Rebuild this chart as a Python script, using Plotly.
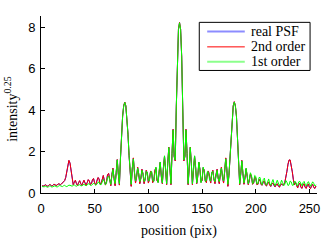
import plotly.graph_objects as go

position = list(range(1, 257))

real_psf = [
    0.35,0.33,0.36,0.40,0.36,0.33,0.36,0.41,0.38,0.34,
    0.37,0.42,0.40,0.36,0.39,0.44,0.43,0.40,0.44,0.50,
    0.56,0.60,0.74,1.09,1.44,1.57,1.44,1.09,0.64,0.40,
    0.51,0.61,0.46,0.37,0.50,0.59,0.46,0.37,0.50,0.61,
    0.49,0.38,0.50,0.64,0.58,0.41,0.46,0.65,0.69,0.47,
    0.41,0.55,0.74,0.70,0.43,0.46,0.70,0.84,0.60,0.39,
    0.56,0.89,0.94,0.56,0.36,0.89,1.19,0.71,0.36,0.99,
    1.61,0.91,0.39,1.67,2.79,3.71,4.21,4.39,4.21,3.70,
    2.84,1.82,0.86,0.33,1.17,1.69,1.01,0.49,0.78,1.24,
    0.91,0.46,0.72,1.14,0.91,0.46,0.68,1.09,0.95,0.49,
    0.66,1.04,1.00,0.51,0.58,1.09,1.22,0.61,0.52,1.14,
    1.48,0.81,0.46,1.24,1.78,1.11,0.41,1.41,2.21,1.21,
    0.41,1.91,3.07,1.76,1.56,4.19,6.61,7.91,8.24,7.91,
    6.61,4.19,1.56,1.76,3.07,1.91,0.41,1.21,2.21,1.41,
    0.41,1.11,1.78,1.24,0.46,0.81,1.48,1.14,0.52,0.61,
    1.22,1.09,0.58,0.51,1.00,1.04,0.66,0.49,0.95,1.09,
    0.68,0.46,0.91,1.14,0.72,0.46,0.91,1.24,0.78,0.49,
    1.01,1.69,1.17,0.33,0.86,1.82,2.84,3.70,4.21,4.41,
    4.21,3.71,2.79,1.67,0.41,0.92,1.57,0.95,0.43,0.75,
    1.17,0.80,0.41,0.60,0.91,0.80,0.43,0.48,0.77,0.70,
    0.41,0.42,0.64,0.62,0.41,0.38,0.55,0.57,0.39,0.34,
    0.50,0.51,0.37,0.32,0.45,0.47,0.35,0.30,0.40,0.44,
    0.34,0.29,0.38,0.44,0.38,0.40,0.50,0.72,1.05,1.39,
    1.59,1.59,1.38,1.03,0.64,0.40,0.51,0.32,0.25,0.42,
    0.47,0.28,0.23,0.40,0.44,0.27,0.23,0.38,0.43,0.27,
    0.22,0.36,0.41,0.27,0.22,0.34,
]

second_order = [
    0.36,0.33,0.35,0.40,0.37,0.33,0.35,0.41,0.39,0.34,
    0.36,0.42,0.41,0.36,0.38,0.44,0.44,0.40,0.43,0.50,
    0.57,0.60,0.75,1.10,1.45,1.58,1.45,1.10,0.65,0.40,
    0.52,0.62,0.45,0.36,0.50,0.60,0.45,0.36,0.50,0.62,
    0.48,0.37,0.50,0.65,0.58,0.40,0.45,0.66,0.70,0.46,
    0.40,0.55,0.75,0.70,0.42,0.45,0.70,0.85,0.60,0.38,
    0.55,0.90,0.95,0.55,0.35,0.90,1.20,0.70,0.35,1.00,
    1.62,0.90,0.38,1.68,2.80,3.72,4.22,4.40,4.22,3.70,
    2.85,1.82,0.85,0.32,1.18,1.70,1.00,0.48,0.78,1.25,
    0.90,0.45,0.72,1.15,0.90,0.45,0.68,1.10,0.95,0.48,
    0.66,1.05,1.00,0.50,0.58,1.10,1.22,0.60,0.52,1.15,
    1.48,0.80,0.45,1.25,1.78,1.10,0.40,1.42,2.22,1.20,
    0.40,1.92,3.08,1.75,1.55,4.20,6.62,7.92,8.25,7.92,
    6.62,4.20,1.55,1.75,3.08,1.92,0.40,1.20,2.22,1.42,
    0.40,1.10,1.78,1.25,0.45,0.80,1.48,1.15,0.52,0.60,
    1.22,1.10,0.58,0.50,1.00,1.05,0.66,0.48,0.95,1.10,
    0.68,0.45,0.90,1.15,0.72,0.45,0.90,1.25,0.78,0.48,
    1.00,1.70,1.18,0.32,0.85,1.82,2.85,3.70,4.22,4.42,
    4.22,3.72,2.80,1.68,0.40,0.92,1.58,0.95,0.42,0.75,
    1.18,0.80,0.40,0.60,0.92,0.80,0.42,0.48,0.78,0.70,
    0.40,0.42,0.65,0.62,0.40,0.38,0.55,0.58,0.38,0.34,
    0.50,0.52,0.36,0.32,0.45,0.48,0.34,0.30,0.40,0.45,
    0.33,0.28,0.38,0.45,0.38,0.40,0.50,0.72,1.05,1.40,
    1.60,1.60,1.38,1.02,0.65,0.40,0.52,0.32,0.24,0.42,
    0.48,0.28,0.22,0.40,0.45,0.27,0.22,0.38,0.44,0.26,
    0.21,0.36,0.42,0.26,0.22,0.34,
]

first_order = [
    0.31,0.29,0.30,0.33,0.31,0.28,0.30,0.34,0.33,0.29,
    0.30,0.34,0.35,0.31,0.29,0.32,0.36,0.35,0.31,0.31,
    0.35,0.37,0.33,0.31,0.34,0.38,0.37,0.33,0.33,0.37,
    0.39,0.35,0.33,0.36,0.40,0.40,0.35,0.35,0.39,0.42,
    0.38,0.35,0.39,0.44,0.44,0.37,0.37,0.43,0.48,0.42,
    0.37,0.42,0.52,0.53,0.41,0.40,0.52,0.66,0.55,0.40,
    0.48,0.75,0.82,0.52,0.42,0.80,1.15,0.75,0.45,0.95,
    1.60,0.95,0.45,1.70,2.80,3.70,4.20,4.38,4.20,3.70,
    2.85,1.85,0.90,0.42,1.20,1.65,1.05,0.58,0.75,1.20,
    0.95,0.55,0.70,1.10,0.95,0.55,0.65,1.05,1.00,0.58,
    0.62,1.00,1.05,0.60,0.55,1.05,1.25,0.70,0.50,1.10,
    1.50,0.90,0.48,1.20,1.80,1.20,0.45,1.40,2.20,1.30,
    0.45,1.90,3.05,1.80,1.60,4.20,6.60,7.90,8.23,7.90,
    6.60,4.20,1.60,1.80,3.05,1.90,0.45,1.30,2.20,1.40,
    0.45,1.20,1.80,1.20,0.48,0.90,1.50,1.10,0.50,0.70,
    1.25,1.05,0.55,0.60,1.05,1.00,0.62,0.58,1.00,1.05,
    0.65,0.55,0.95,1.10,0.70,0.55,0.95,1.20,0.75,0.58,
    1.05,1.65,1.20,0.42,0.90,1.85,2.85,3.70,4.20,4.40,
    4.20,3.70,2.80,1.70,0.45,0.95,1.55,1.00,0.48,0.80,
    1.20,0.85,0.45,0.65,0.98,0.85,0.45,0.50,0.85,0.80,
    0.45,0.45,0.75,0.75,0.45,0.40,0.65,0.72,0.45,0.38,
    0.58,0.68,0.45,0.37,0.52,0.65,0.45,0.36,0.48,0.62,
    0.48,0.35,0.45,0.62,0.50,0.35,0.42,0.60,0.52,0.36,
    0.40,0.58,0.54,0.37,0.38,0.56,0.55,0.38,0.36,0.54,
    0.56,0.40,0.35,0.50,0.56,0.42,0.34,0.47,0.55,0.44,
    0.33,0.44,0.54,0.46,0.34,0.40,
]

series_names = ["real PSF", "2nd order", "1st order"]
series_colors = ["#0000ff", "#ff0000", "#00ff00"]
legend_colors = ["rgba(0,0,255,0.45)", "#ff0000", "rgba(0,255,0,0.45)"]
legend_widths = [2, 1, 2]
x_ticks = [0, 50, 100, 150, 200, 250]
y_ticks = [0, 2, 4, 6, 8]

serif = "Liberation Serif, Times New Roman, serif"
sans = "Liberation Sans, Arial, sans-serif"

fig = go.Figure()
for name, ys, col in zip(series_names, [real_psf, second_order, first_order], series_colors):
    fig.add_trace(go.Scatter(x=position, y=ys, mode="lines", name=name,
                             line=dict(color=col, width=1), showlegend=False,
                             hoverinfo="skip"))

# legend box drawn in paper coordinates (plot area: 41..320 px, 16..211 px)
W, H, L, T = 279.0, 195.0, 41.0, 16.0
def px(xp):
    return (xp - L) / W
def py(yp):
    return 1 - (yp - T) / H

shapes = [dict(type="rect", xref="paper", yref="paper",
               x0=px(201), x1=px(313), y0=py(76), y1=py(23),
               line=dict(color="black", width=1), fillcolor="white", layer="above")]
annotations = []
row_y = [33, 50, 66.5]
for name, col, lw, ry in zip(series_names, legend_colors, legend_widths, row_y):
    shapes.append(dict(type="line", xref="paper", yref="paper",
                       x0=px(209), x1=px(247), y0=py(ry), y1=py(ry),
                       line=dict(color=col, width=lw), layer="above"))
    annotations.append(dict(text=name, xref="paper", yref="paper",
                            x=px(251), y=py(ry), xanchor="left", yanchor="middle",
                            showarrow=False, font=dict(family=serif, size=14, color="black")))

# y-axis title
annotations.append(dict(text="intensity<sup>0.25</sup>", xref="paper", yref="paper",
                        x=px(11), y=py(119), xanchor="center", yanchor="middle",
                        textangle=-90, showarrow=False,
                        font=dict(family=serif, size=14, color="black")))

fig.update_layout(
    width=332, height=247,
    margin=dict(l=41, r=12, t=16, b=36),
    paper_bgcolor="white", plot_bgcolor="white",
    font=dict(family=sans, size=13, color="black"),
    showlegend=False, hovermode=False,
    shapes=shapes, annotations=annotations,
)
fig.update_xaxes(range=[0, 257], tickvals=x_ticks, ticktext=[str(v) for v in x_ticks],
                 ticks="inside", ticklen=4, tickcolor="black", ticklabelstandoff=3,
                 showline=True, linecolor="black", linewidth=1,
                 showgrid=False, zeroline=False,
                 title=dict(text="position (pix)", font=dict(family=serif, size=14), standoff=10))
fig.update_yaxes(range=[0, 8.56], tickvals=y_ticks, ticktext=[str(v) for v in y_ticks],
                 ticks="inside", ticklen=4, tickcolor="black", ticklabelstandoff=2,
                 showline=True, linecolor="black", linewidth=1,
                 showgrid=False, zeroline=False)

fig.write_html("out.html", config={"displayModeBar": False},
               post_script="document.body.style.margin='0px';")
